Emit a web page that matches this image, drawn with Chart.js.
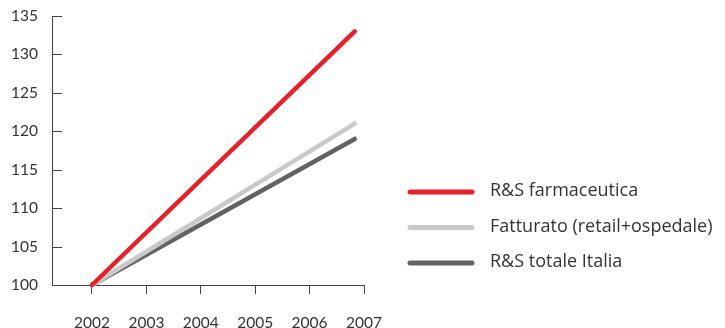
<!DOCTYPE html>
<html>
<head>
<meta charset="utf-8">
<script src="https://cdn.jsdelivr.net/npm/chart.js@4/dist/chart.umd.min.js"></script>
<style>
  html, body { margin: 0; padding: 0; background: #fff; }
  #wrap { position: relative; width: 725px; height: 328px; }
</style>
</head>
<body>
<div id="wrap"><canvas id="c" width="725" height="328"></canvas></div>
<script>
// Index values, 2002 = 100
const seriesNames = ['R&S farmaceutica', 'Fatturato (retail+ospedale)', 'R&S totale Italia'];
const seriesColors = ['#e8202a', '#c9c9c9', '#626262'];
const years = [2002, 2006.83];
const rsFarmaceutica = [100, 133];
const fatturato = [100, 121];
const rsTotaleItalia = [100, 119];
const xTickYears = [2002, 2003, 2004, 2005, 2006, 2007];
const yTicks = [100, 105, 110, 115, 120, 125, 130, 135];

const seriesValues = [rsFarmaceutica, fatturato, rsTotaleItalia];
const datasets = seriesNames.map((name, i) => ({
  label: name,
  data: years.map((x, j) => ({ x, y: seriesValues[i][j] })),
  borderColor: seriesColors[i],
  backgroundColor: seriesColors[i],
  borderWidth: 4.5,
  borderCapStyle: 'round',
  pointRadius: 0,
  tension: 0,
  clip: false
}));

const labelFont = { family: 'Lato, "Open Sans", sans-serif', size: 15.5 };

// Short ticks on the y axis, pointing into the plot area
const innerTicks = {
  id: 'innerTicks',
  afterDraw(chart) {
    const { ctx } = chart;
    const ys = chart.scales.y;
    ctx.save();
    ctx.strokeStyle = '#444';
    ctx.lineWidth = 1;
    yTicks.forEach(v => {
      const py = Math.round(ys.getPixelForValue(v)) + 0.5;
      ctx.beginPath();
      ctx.moveTo(ys.right, py);
      ctx.lineTo(ys.right + 10, py);
      ctx.stroke();
    });
    ctx.restore();
  }
};

// Legend on the right: line swatch + label
const sideLegend = {
  id: 'sideLegend',
  afterDraw(chart) {
    const { ctx } = chart;
    const rows = [192, 227.5, 263];
    ctx.save();
    chart.data.datasets.forEach((ds, i) => {
      const y = rows[i];
      ctx.strokeStyle = ds.borderColor;
      ctx.lineWidth = 5;
      ctx.lineCap = 'round';
      ctx.beginPath();
      ctx.moveTo(410, y);
      ctx.lineTo(472, y);
      ctx.stroke();
      ctx.fillStyle = '#333';
      ctx.font = '18px "Open Sans", sans-serif';
      ctx.textBaseline = 'middle';
      ctx.textAlign = 'left';
      ctx.fillText(ds.label, 490, y - 1);
    });
    ctx.restore();
  }
};

new Chart(document.getElementById('c'), {
  type: 'line',
  data: { datasets },
  options: {
    responsive: false,
    animation: false,
    layout: { padding: { top: 16, right: 361, left: 0, bottom: 0 } },
    plugins: { legend: { display: false }, tooltip: { enabled: false } },
    scales: {
      x: {
        type: 'linear',
        min: 2001.265,
        max: 2007,
        afterBuildTicks(scale) { scale.ticks = xTickYears.map(v => ({ value: v })); },
        afterFit(scale) { scale.height = 43; scale.paddingLeft = 0; scale.paddingRight = 0; },
        border: { display: true, color: '#444', width: 1 },
        grid: { drawOnChartArea: false, drawTicks: true, tickLength: 9, color: '#444' },
        ticks: {
          color: '#333',
          font: labelFont,
          padding: 20,
          maxRotation: 0,
          callback: v => String(v)
        }
      },
      y: {
        min: 100,
        max: 135,
        afterBuildTicks(scale) { scale.ticks = yTicks.map(v => ({ value: v })); },
        afterFit(scale) { scale.width = 52; scale.paddingTop = 0; scale.paddingBottom = 0; },
        border: { display: true, color: '#444', width: 1 },
        grid: { drawOnChartArea: false, drawTicks: false },
        ticks: {
          color: '#333',
          font: labelFont,
          padding: 14,
          callback: v => String(v)
        }
      }
    }
  },
  plugins: [innerTicks, sideLegend]
});
</script>
</body>
</html>
